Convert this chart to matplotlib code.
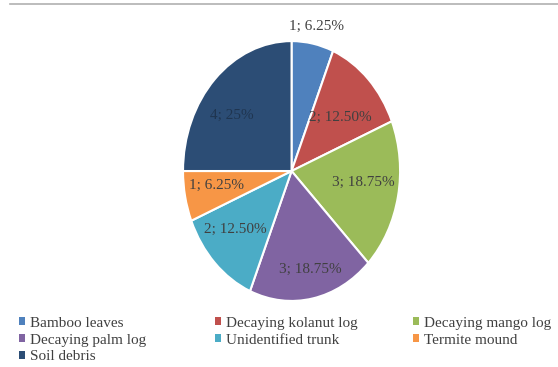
import matplotlib.pyplot as plt
from matplotlib.patches import Patch

# habitat counts
habitats = ["Bamboo leaves", "Decaying kolanut log", "Decaying mango log",
            "Decaying palm log", "Unidentified trunk", "Termite mound", "Soil debris"]
counts = [1, 2, 3, 3, 2, 1, 4]
pct_labels = ["6.25%", "12.50%", "18.75%", "18.75%", "12.50%", "6.25%", "25%"]
colors = ["#4F81BD", "#C0504D", "#9BBB59", "#8064A2", "#4BACC6", "#F79646", "#2C4D75"]

plt.rcParams['font.family'] = ['Liberation Serif', 'DejaVu Serif']

fig = plt.figure(figsize=(5.58, 3.67), dpi=100)

# thin grey rule at the top (cropped title above)
fig.add_artist(plt.Line2D([0.018, 1.0], [0.989, 0.989], color="#b0b0b0", lw=1.2))

ax = fig.add_axes([0.328, 0.180, 0.389, 0.708])
wedges, _ = ax.pie(counts, colors=colors, startangle=90, counterclock=False,
                   wedgeprops=dict(edgecolor="white", linewidth=1.5))
ax.set_xlim(-1, 1)
ax.set_ylim(-1, 1)
ax.set_aspect('auto')
ax.axis('off')

# data labels "count; percent"
label_pos = [(0.226, 1.11), (0.45, 0.41), (0.66, -0.09), (0.17, -0.76),
             (-0.52, -0.45), (-0.69, -0.11), (-0.55, 0.43)]
for (x, y), c, p in zip(label_pos, counts, pct_labels):
    col = "#404040" if c != 4 else "#1f3550"
    ax.text(x, y, f"{c}; {p}", ha="center", va="center", fontsize=11, color=col,
            clip_on=False)

# legend, one block per column
columns = [[0, 3, 6], [1, 4], [2, 5]]
col_x = [0.034, 0.385, 0.740]
for idx, x0 in zip(columns, col_x):
    handles = [Patch(facecolor=colors[i], edgecolor="none") for i in idx]
    labels = [habitats[i] for i in idx]
    fig.legend(handles, labels, loc="upper left", bbox_to_anchor=(x0, 0.137),
               frameon=False, fontsize=11, handlelength=0.4, handleheight=0.4,
               handletextpad=0.35, labelspacing=0.25, borderpad=0,
               borderaxespad=0, labelcolor="#404040")

plt.savefig("out.png", dpi=100)
